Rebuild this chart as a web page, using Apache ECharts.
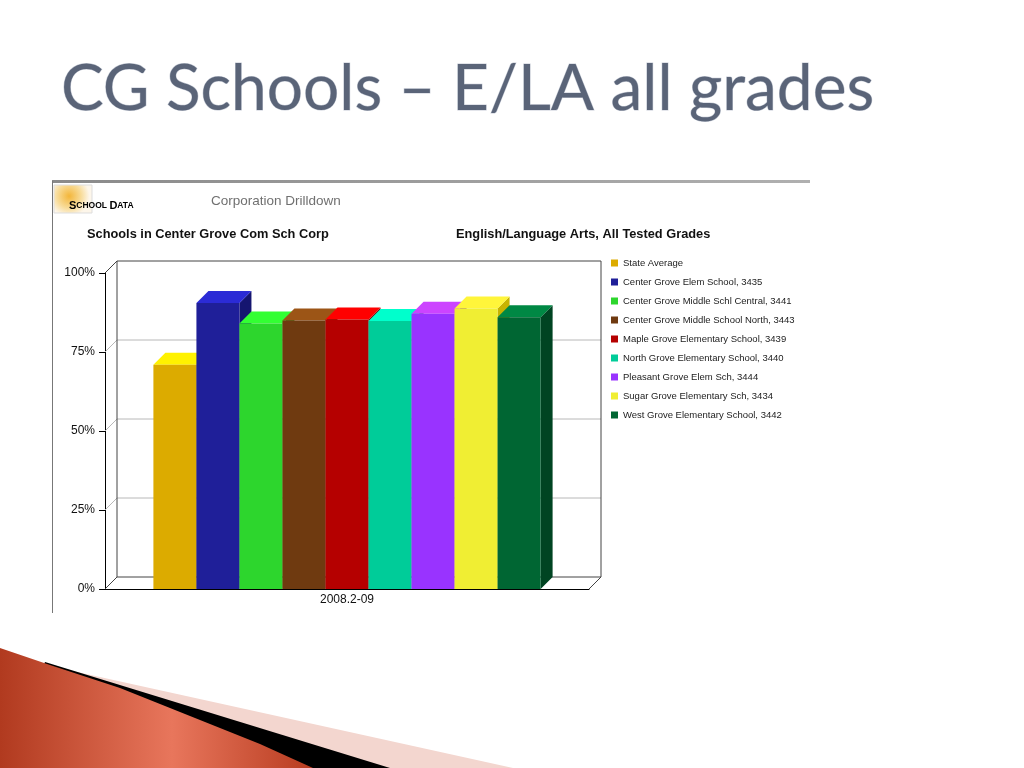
<!DOCTYPE html>
<html>
<head>
<meta charset="utf-8">
<title>CG Schools - E/LA all grades</title>
<script src="https://cdn.jsdelivr.net/npm/echarts@6/dist/echarts.min.js"></script>
<style>
  html, body { margin: 0; padding: 0; background: #fff; }
  #main { width: 1024px; height: 768px; }
</style>
</head>
<body>
<div id="main"></div>
<script>
// 数据
var categories = ['2008.2-09'];
var schools = [
  'State Average',
  'Center Grove Elem School, 3435',
  'Center Grove Middle Schl Central, 3441',
  'Center Grove Middle School North, 3443',
  'Maple Grove Elementary School, 3439',
  'North Grove Elementary School, 3440',
  'Pleasant Grove Elem Sch, 3444',
  'Sugar Grove Elementary Sch, 3434',
  'West Grove Elementary School, 3442'
];
var scores = [71, 90.5, 84, 85, 85.3, 84.8, 87.1, 88.8, 86];
var yTicks = [0, 25, 50, 75, 100];

// 颜色：正面 / 顶面 / 侧面
var frontColors = ['#dcab00', '#1f1f99', '#2dd62d', '#6f3a10', '#b50000', '#00cc99', '#9933ff', '#f0ee33', '#006633'];
var topColors = ['#fff200', '#2b2bd6', '#33ff33', '#9c5516', '#ff0000', '#00ffcc', '#cc44ff', '#fff53a', '#008844'];
var sideColors = ['#9a7800', '#151570', '#1f961f', '#4d280b', '#7f0000', '#008f6b', '#6b24b3', '#c8b400', '#004422'];

var DEPTH = 12;
var FONT = '"Liberation Sans", Arial, sans-serif';

var chart = echarts.init(document.getElementById('main'));

// 背景墙 + 网格线
function renderFrame(params, api) {
  var cs = params.coordSys;
  var d = DEPTH;
  var x = cs.x, w = cs.width;
  var children = [];
  var yTop = api.coord([0, yTicks[yTicks.length - 1]])[1];
  var yBot = api.coord([0, yTicks[0]])[1];
  yTicks.forEach(function (t, k) {
    if (k === 0 || k === yTicks.length - 1) return;
    var y = api.coord([0, t])[1];
    children.push({ type: 'line', shape: { x1: x + d, y1: y - d, x2: x + w + d, y2: y - d }, style: { stroke: '#b8b8b8', lineWidth: 1 } });
    children.push({ type: 'line', shape: { x1: x, y1: y, x2: x + d, y2: y - d }, style: { stroke: '#b8b8b8', lineWidth: 1 } });
  });
  var dark = { stroke: '#444', lineWidth: 1, fill: null };
  children.push({ type: 'polyline', shape: { points: [[x + d, yBot - d], [x + d, yTop - d], [x + w + d, yTop - d], [x + w + d, yBot - d], [x + d, yBot - d]] }, style: dark });
  children.push({ type: 'line', shape: { x1: x, y1: yTop, x2: x + d, y2: yTop - d }, style: dark });
  children.push({ type: 'line', shape: { x1: x, y1: yBot, x2: x + d, y2: yBot - d }, style: dark });
  children.push({ type: 'line', shape: { x1: x + w, y1: yBot, x2: x + w + d, y2: yBot - d }, style: dark });
  return { type: 'group', children: children };
}

// 3D 柱子
function makeRender(i) {
  return function (params, api) {
    var d = DEPTH;
    var base = api.coord([api.value(0), 0]);
    var top = api.coord([api.value(0), api.value(1)]);
    var band = api.size([1, 0])[0];
    var w = band * 0.8 / schools.length;
    var x0 = base[0] - band * 0.4 + i * w;
    var ty = top[1], by = base[1];
    return {
      type: 'group',
      children: [
        { type: 'polygon', shape: { points: [[x0 + w, ty], [x0 + w + d, ty - d], [x0 + w + d, by - d], [x0 + w, by]] }, style: { fill: sideColors[i] } },
        { type: 'polygon', shape: { points: [[x0, ty], [x0 + w, ty], [x0 + w + d, ty - d], [x0 + d, ty - d]] }, style: { fill: topColors[i] } },
        { type: 'rect', shape: { x: x0, y: ty, width: w, height: by - ty }, style: { fill: frontColors[i] } }
      ]
    };
  };
}

var series = [{
  type: 'custom',
  name: 'frame',
  z: 1,
  silent: true,
  renderItem: renderFrame,
  data: [[0, 0]]
}];
schools.forEach(function (name, i) {
  series.push({
    type: 'custom',
    name: name,
    z: 2,
    itemStyle: { color: frontColors[i] },
    renderItem: makeRender(i),
    encode: { x: 0, y: 1 },
    data: [[0, scores[i]]]
  });
});

var option = {
  animation: false,
  backgroundColor: '#fff',
  grid: { left: 105, top: 273, right: 435, bottom: 179 },
  legend: {
    orient: 'vertical',
    left: 606,
    top: 252,
    icon: 'rect',
    itemWidth: 7,
    itemHeight: 7,
    itemGap: 7,
    data: schools,
    textStyle: { fontSize: 9.5, lineHeight: 12, color: '#222', fontFamily: FONT }
  },
  xAxis: {
    type: 'category',
    data: categories,
    axisLine: { lineStyle: { color: '#000' } },
    axisTick: { length: 7, lineStyle: { color: '#000' } },
    axisLabel: { color: '#111', fontSize: 12, margin: 5, fontFamily: FONT },
    splitLine: { show: false }
  },
  yAxis: {
    type: 'value',
    min: 0,
    max: 100,
    interval: 25,
    axisLine: { show: true, lineStyle: { color: '#000' } },
    axisTick: { show: true, length: 6, lineStyle: { color: '#000' } },
    axisLabel: { formatter: '{value}%', color: '#111', fontSize: 12, margin: 10, fontFamily: FONT },
    splitLine: { show: false }
  },
  graphic: [
    // 标题
    { type: 'text', x: 61, y: 89, style: { text: 'CG Schools – E/LA all grades', font: '64px Lato, "Open Sans", sans-serif', fill: '#5a6478', textVerticalAlign: 'middle', stroke: '#c9ced8', lineWidth: 1 } },
    // 图片边框
    { type: 'rect', shape: { x: 52, y: 180, width: 758, height: 3 }, style: { fill: new echarts.graphic.LinearGradient(0, 0, 1, 0, [{ offset: 0, color: '#8a8a8a' }, { offset: 1, color: '#b0b0b0' }]) } },
    { type: 'line', shape: { x1: 52.5, y1: 181, x2: 52.5, y2: 613 }, style: { stroke: '#777', lineWidth: 1 } },
    // logo
    { type: 'rect', shape: { x: 54, y: 185, width: 38, height: 28 }, style: { fill: new echarts.graphic.RadialGradient(0.4, 0.4, 0.7, [{ offset: 0, color: '#f3b63a' }, { offset: 0.6, color: '#f8dc9a' }, { offset: 1, color: '#fdf6ea' }]), stroke: '#ddd' } },
    { type: 'text', x: 69, y: 206, style: { text: '{a|S}{b|CHOOL }{a|D}{b|ATA}', textVerticalAlign: 'middle', rich: { a: { fontSize: 11, fontWeight: 'bold', color: '#8b1a12', fontFamily: FONT }, b: { fontSize: 8.5, fontWeight: 'bold', color: '#8b1a12', fontFamily: FONT } } } },
    { type: 'text', x: 211, y: 201, style: { text: 'Corporation Drilldown', font: '13.5px ' + FONT, fill: '#707070', textVerticalAlign: 'middle' } },
    { type: 'text', x: 87, y: 234, style: { text: 'Schools in Center Grove Com Sch Corp', font: 'bold 12.8px ' + FONT, fill: '#111', textVerticalAlign: 'middle' } },
    { type: 'text', x: 456, y: 234, style: { text: 'English/Language Arts, All Tested Grades', font: 'bold 12.8px ' + FONT, fill: '#111', textVerticalAlign: 'middle' } },
    // 左下角装饰
    { type: 'polygon', shape: { points: [[0, 655], [513, 768], [0, 768]] }, style: { fill: '#f3d6cf' } },
    { type: 'polygon', shape: { points: [[45, 662], [390, 768], [0, 768]] }, style: { fill: '#000' } },
    { type: 'polygon', shape: { points: [[0, 648], [50, 665], [120, 688], [200, 720], [260, 744], [313, 768], [0, 768]] }, style: { fill: new echarts.graphic.LinearGradient(0, 0, 1, 0, [{ offset: 0, color: '#b13a1f' }, { offset: 0.55, color: '#e8765c' }, { offset: 1, color: '#b83c20' }]) } }
  ],
  series: series
};

chart.setOption(option);
</script>
</body>
</html>
